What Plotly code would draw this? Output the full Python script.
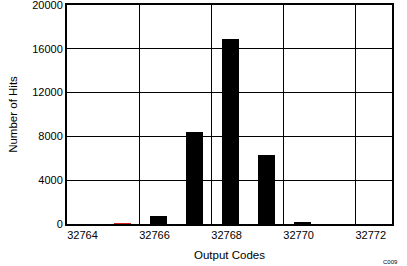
import plotly.graph_objects as go

codes = [32764, 32765, 32766, 32767, 32768, 32769, 32770, 32771, 32772]
hits = [0, 60, 770, 8400, 16900, 6300, 190, 0, 0]
bar_colors = ["black", "#d62020", "black", "black", "black", "black", "black", "black", "black"]
x_ticks = [32764, 32766, 32768, 32770, 32772]
y_ticks = [0, 4000, 8000, 12000, 16000, 20000]
x_range = [32763.46, 32772.48]
grid_start = 32763.47

font = "Liberation Sans, Arial, Helvetica, sans-serif"

fig = go.Figure()
fig.add_trace(go.Bar(x=codes, y=hits, width=0.48, marker=dict(color=bar_colors, line=dict(width=0)),
                     showlegend=False, hoverinfo="skip"))
# invisible helper trace so the grid axis is drawn
fig.add_trace(go.Scatter(x=[x_range[0]], y=[0], xaxis="x2", mode="markers",
                         marker=dict(opacity=0), showlegend=False, hoverinfo="skip"))

fig.update_layout(
    width=407, height=266,
    margin=dict(l=67, r=15, t=5, b=42, autoexpand=False),
    paper_bgcolor="white", plot_bgcolor="white",
    font=dict(family=font, size=11, color="black"),
    bargap=0,
    xaxis=dict(range=x_range, tickmode="array", tickvals=x_ticks,
               ticktext=[str(v) for v in x_ticks], showgrid=False, zeroline=False,
               showline=True, linecolor="black", linewidth=2, mirror=True,
               ticks="", ticklabelshift=-4, tickfont=dict(size=11), automargin=False,
               ticklabeloverflow="allow",
               title=dict(text="Output Codes", font=dict(size=11.5), standoff=11)),
    xaxis2=dict(range=x_range, overlaying="x", tickmode="linear", tick0=grid_start, dtick=2,
                showticklabels=False, showgrid=True, gridcolor="black", gridwidth=1,
                zeroline=False, showline=False, ticks="", side="bottom", automargin=False),
    yaxis=dict(range=[0, 20000], tickmode="array", tickvals=y_ticks,
               ticktext=[str(v) for v in y_ticks],
               showgrid=True, gridcolor="black", gridwidth=1, zeroline=False,
               showline=True, linecolor="black", linewidth=2, mirror=True,
               ticks="", tickfont=dict(size=11), automargin=False,
               ticklabeloverflow="allow",
               title=dict(text="Number of Hits", font=dict(size=11.5), standoff=12)),
    annotations=[dict(text="C009", xref="paper", yref="paper", x=0.995, y=-0.15,
                      xanchor="center", yanchor="top", showarrow=False,
                      font=dict(size=6, color="black"))],
)
fig.write_html("out.html")
